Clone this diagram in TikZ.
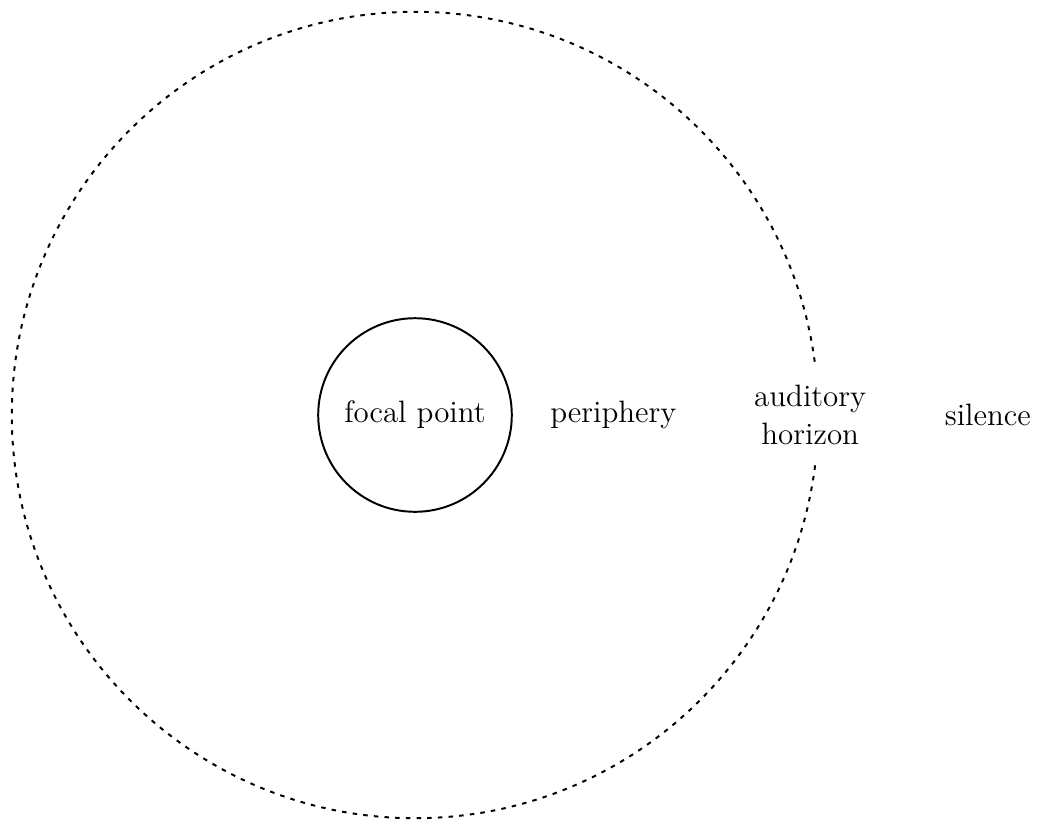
\documentclass[tikz,border=0pt]{standalone}
\usetikzlibrary{positioning}

\def\zonesep{2.48cm}

\begin{document}
\begin{tikzpicture}[line width=0.7pt, node distance=\zonesep, font=\fontsize{11}{13.4}\selectfont]
\tikzstyle{zone}=[circle,draw=black,inner sep=0pt]
\tikzstyle{focus zone}=[zone, minimum size=2.42cm]
\tikzstyle{horizon zone}=[zone, minimum size=10.08cm, dash pattern=on 1.6pt off 2.2pt]
\tikzstyle{annot} = [text width=5em, text centered]

\useasboundingbox (-5.1875,-5.1125) rectangle (7.8125,5.1875);

% Draw the horizon and the focal point
\node[horizon zone] (H) at (0,0) {};
\node[focus zone] (F) at (0,0) {focal point};

% Annotate the zones
\node[annot, right of=F] (P) {periphery};
\node[annot, fill=white, inner xsep=1pt, inner ysep=6.5pt, right of=P, node distance=2.46cm] (A) {auditory\\horizon};
\node[annot, right of=A, node distance=2.22cm] (S) {silence};
\end{tikzpicture}
\end{document}
